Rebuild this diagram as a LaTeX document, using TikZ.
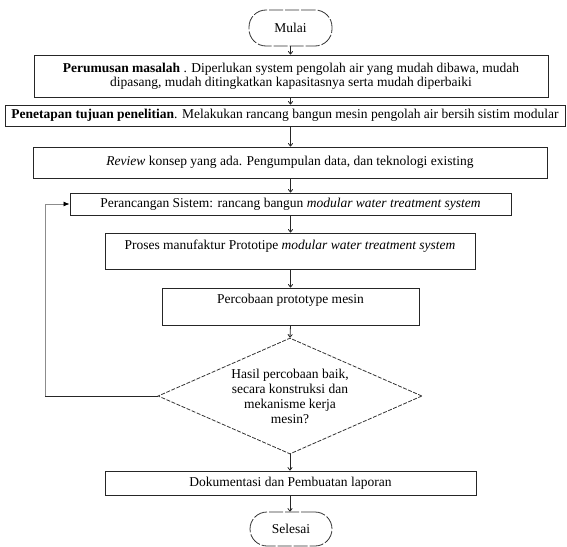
\documentclass[tikz,border=0pt]{standalone}
\usepackage{fontspec}
\setmainfont{Liberation Serif}
\usetikzlibrary{arrows.meta,shapes.geometric}
\begin{document}
\begin{tikzpicture}[x=1pt,y=-1pt,
  font=\fontsize{13.5}{14}\selectfont,
  box/.style={draw=black!85,line width=0.9pt,rectangle,inner sep=0pt},
  oval/.style={draw=black!80,line width=0.8pt,rectangle,rounded corners=17pt,inner sep=0pt,dash pattern=on 14pt off 2pt},
  txt/.style={align=center,inner sep=0pt},
  arr/.style={draw=black!85,line width=0.8pt,-{To[length=3.5pt,width=5pt]}},
  fb/.style={draw=black!45,line width=0.8pt,-{Latex[length=6pt,width=5pt,color=black]}}
]
\useasboundingbox (0,0) rectangle (567,546);

\node[oval,minimum width=83pt,minimum height=36pt] (start) at (290.5,28) {Mulai};

\node[box,minimum width=514pt,minimum height=42pt] (b1) at (291,76) {};
\node[txt] (t1) at (291,76.5) {\textbf{Perumusan masalah} . Diperlukan system pengolah air yang mudah dibawa, mudah\\dipasang, mudah ditingkatkan kapasitasnya serta mudah diperbaiki};

\node[box,minimum width=560pt,minimum height=21pt] (b2) at (285,115.5) {};
\node[txt] (t2) at (285,115.5) {\textbf{Penetapan tujuan penelitian}. Melakukan rancang bangun mesin pengolah air bersih sistim modular};

\node[box,minimum width=514pt,minimum height=31pt] (b3) at (290,162.5) {};
\node[txt] (t3) at (290,162) {\textit{Review} konsep yang ada. Pengumpulan data, dan teknologi existing};

\node[box,minimum width=441pt,minimum height=22pt] (b4) at (290.5,204) {};
\node[txt] (t4) at (290.5,204) {Perancangan Sistem: rancang bangun \textit{modular water treatment system}};

\node[box,minimum width=370pt,minimum height=36pt] (b5) at (290,251) {};
\node[txt] (t5) at (290,246) {Proses manufaktur Prototipe \textit{modular water treatment system}};

\node[box,minimum width=257pt,minimum height=37pt] (b6) at (290.5,306.5) {};
\node[txt] (t6) at (290.5,300) {Percobaan prototype mesin};

\node[draw=black!80,line width=0.8pt,diamond,dash pattern=on 4pt off 1.5pt,inner sep=0pt,minimum width=264pt,minimum height=116pt] (dec) at (290,396) {};
\node[txt,font=\fontsize{13.5}{15}\selectfont] (t7) at (290,396) {Hasil percobaan baik,\\secara konstruksi dan\\mekanisme kerja\\mesin?};

\node[box,minimum width=371pt,minimum height=24pt] (b7) at (290.5,483) {};
\node[txt] (t8) at (290.5,483) {Dokumentasi dan Pembuatan laporan};

\node[oval,minimum width=82pt,minimum height=34pt] (end) at (291,529) {Selesai};

\draw[arr] (start.south) -- (start.south |- b1.north);
\draw[arr] (b1.south -| start.south) -- (start.south |- b2.north);
\draw[arr] (b2.south -| start.south) -- (start.south |- b3.north);
\draw[arr] (b3.south -| start.south) -- (start.south |- b4.north);
\draw[arr] (b4.south -| start.south) -- (start.south |- b5.north);
\draw[arr] (b5.south -| start.south) -- (start.south |- b6.north);
\draw[arr] (b6.south -| start.south) -- (dec.north);
\draw[arr] (dec.south) -- (dec.south |- b7.north);
\draw[arr] (b7.south -| dec.south) -- (dec.south |- end.north);

\coordinate (fbc) at (45,396);
\draw[line width=0.9pt,black!85] (dec.west) -- (fbc);
\draw[fb] (fbc) |- (b4.west);
\end{tikzpicture}
\end{document}
